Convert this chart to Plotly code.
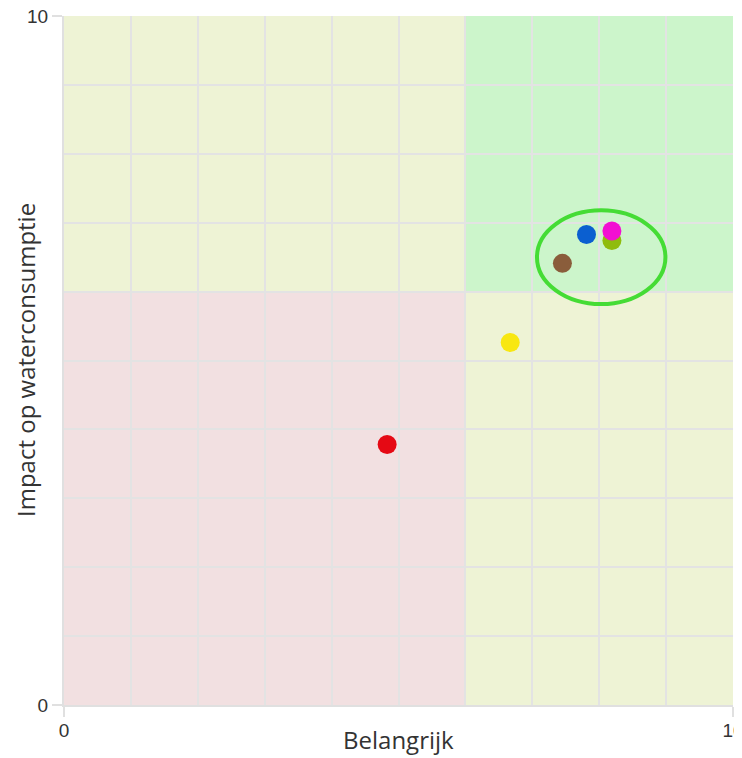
import plotly.graph_objects as go

# Data
names = ["Rood", "Geel", "Bruin", "Blauw", "Groen", "Roze"]
x_vals = [4.83, 6.67, 7.45, 7.81, 8.19, 8.19]
y_vals = [3.78, 5.26, 6.41, 6.83, 6.74, 6.88]
colors = ["#e50914", "#f8e711", "#8a5d3b", "#0b5fd0", "#8fbc0c", "#f20fd2"]

x_ticks = [0, 10]
y_ticks = [0, 10]
split = 6
ellipse_x = [7.07, 8.99]
ellipse_y = [5.82, 7.18]
x_title = "Belangrijk"
y_title = "Impact op waterconsumptie"

# page body has an 8px default margin; size the figure so the plot lands where the reference has it
OFF = 8
W, H = 742 - OFF, 758 - OFF
ML, MR, MT, MB = 64 - OFF, 9, 16 - OFF, 53
PW, PH = W - ML - MR, H - MT - MB

fig = go.Figure()
for n, xv, yv, c in zip(names, x_vals, y_vals, colors):
    fig.add_trace(go.Scatter(x=[xv], y=[yv], mode="markers", name=n,
                             marker=dict(size=19, color=c, line=dict(width=0)),
                             showlegend=False))

quads = [
    (0, split, split, 10, "#eef3d5"),
    (split, 10, split, 10, "#ccf5cb"),
    (0, split, 0, split, "#f2e0e1"),
    (split, 10, 0, split, "#eef3d5"),
]
for x0, x1, y0, y1, c in quads:
    fig.add_shape(type="rect", x0=x0, x1=x1, y0=y0, y1=y1, xref="x", yref="y",
                  fillcolor=c, line=dict(width=0), layer="below")

fig.add_shape(type="circle", x0=ellipse_x[0], x1=ellipse_x[1], y0=ellipse_y[0], y1=ellipse_y[1],
              xref="x", yref="y", line=dict(color="#45dc35", width=4), layer="above")

axis_common = dict(
    range=[0, 10], showgrid=False, zeroline=False, automargin=False,
    showline=True, linecolor="#e0e0e0", linewidth=2,
    ticks="outside", ticklen=10, tickcolor="#e0e0e0", tickwidth=2,
    minor=dict(dtick=1, showgrid=True, gridcolor="#e3e3e3", gridwidth=2, ticks=""),
    tickfont=dict(family="Liberation Sans, Arial", size=19, color="#333333"),
    ticklabeloverflow="allow",
    fixedrange=True,
)

fig.update_xaxes(**axis_common, tickvals=x_ticks, ticklabelstandoff=-3)
fig.update_yaxes(**axis_common, tickvals=y_ticks)

# annotation positions given in page pixels of the reference
fig.add_annotation(text=x_title, xref="paper", yref="paper",
                   x=(398 - 64) / PW, y=(705 - 740) / PH,
                   xanchor="center", yanchor="middle", showarrow=False,
                   font=dict(family="Open Sans", size=24, color="#333333"))
fig.add_annotation(text=y_title, xref="paper", yref="paper",
                   x=(25 - 64) / PW, y=(705 - 360) / PH, textangle=-90,
                   xanchor="center", yanchor="middle", showarrow=False,
                   font=dict(family="Open Sans", size=24, color="#333333"))

fig.update_layout(
    width=W, height=H,
    margin=dict(l=ML, r=MR, t=MT, b=MB),
    paper_bgcolor="white", plot_bgcolor="white",
    showlegend=False,
)

fig.write_html("out.html")
